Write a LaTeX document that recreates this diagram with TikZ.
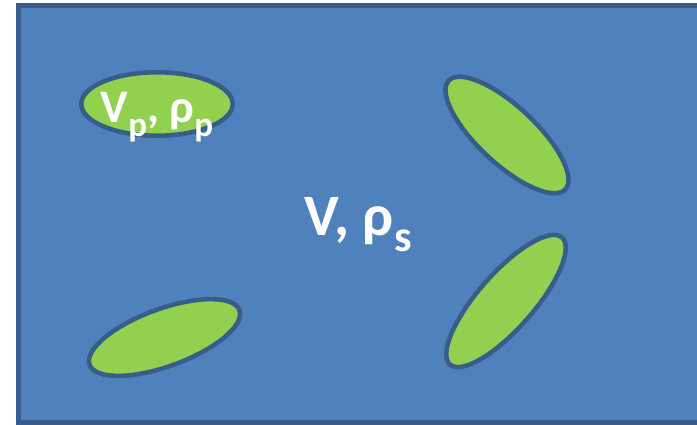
\documentclass[tikz,border=0pt]{standalone}
\usepackage{fontspec}
\setmainfont{Carlito}
\usepackage{xcolor}
\usepackage{tikz}
\usetikzlibrary{shapes.geometric,positioning}
\definecolor{matrixfill}{HTML}{4F81BD}
\definecolor{matrixline}{HTML}{385D8A}
\definecolor{grainfill}{HTML}{92D050}
\newcommand{\lowsub}[2]{\raisebox{#2}{\scalebox{0.75}{#1}}}

\begin{document}
\begin{tikzpicture}[
  x=0.75pt,y=-0.75pt,
  matrixbox/.style={draw=matrixline,fill=matrixfill,line width=3.4pt},
  grain/.style={ellipse,draw=matrixline,fill=grainfill,line width=3.4pt,inner sep=0pt,minimum width=119.6pt,minimum height=41.6pt},
  lbl/.style={text=white,inner sep=0pt,anchor=base},
]
\useasboundingbox (0,0) rectangle (697,425);
\begin{scope}
\clip (0,0) rectangle (697,425);
\draw[matrixbox] (18.5,5.5) rectangle (699,422.5);
\end{scope}
\node[grain,minimum width=113.6pt,minimum height=47.6pt] (grainA) at (157,104) {};
\node[grain,rotate=-43,minimum height=43pt] (grainB) at (507,135) {};
\node[grain,rotate=48.6,minimum width=127pt] (grainC) at (506,301) {};
\node[grain,rotate=20,minimum height=43.1pt] (grainD) at (164.5,337.5) {};
\node[lbl,font=\bfseries\fontsize{35pt}{40pt}\selectfont] (grainlabel) at (157,122) {V\lowsub{p}{-0.3em}, ρ\lowsub{p}{-0.3em}};
\node[lbl,font=\bfseries\fontsize{44pt}{50pt}\selectfont] (matrixlabel) at (358,235) {V, ρ\lowsub{s}{-0.28em}};
\end{tikzpicture}
\end{document}
